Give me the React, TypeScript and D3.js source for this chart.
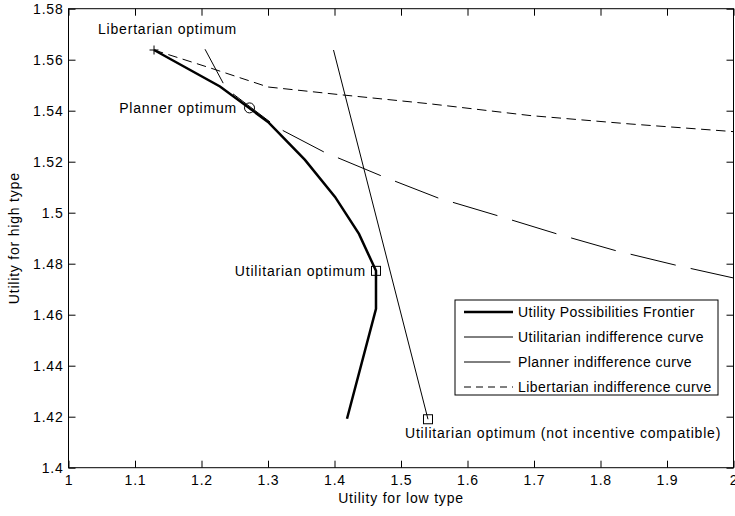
import React from "react";
import * as d3 from "d3";

// axis ticks
const xTicks = [1, 1.1, 1.2, 1.3, 1.4, 1.5, 1.6, 1.7, 1.8, 1.9, 2];
const yTicks = [1.4, 1.42, 1.44, 1.46, 1.48, 1.5, 1.52, 1.54, 1.56, 1.58];

// utility possibilities frontier (low type, high type)
const frontierX = [1.1286, 1.2278, 1.3, 1.3556, 1.4008, 1.4368, 1.4624, 1.4624, 1.4188];
const frontierY = [1.5638, 1.5495, 1.5356, 1.5207, 1.5062, 1.4917, 1.4772, 1.4623, 1.4192];

// utilitarian indifference curve
const utilX = [1.3985, 1.5406];
const utilY = [1.5638, 1.419];

// short indifference segment near libertarian optimum
const shortX = [1.2053, 1.2326];
const shortY = [1.5641, 1.5508];

// planner indifference curve
const plannerX = [1.2474, 1.303, 1.3226, 1.3842, 1.4699, 1.5556, 1.6444, 1.7331, 1.8218, 1.912, 2.0];
const plannerY = [1.5466, 1.5356, 1.5322, 1.5238, 1.5145, 1.5058, 1.4989, 1.4918, 1.4852, 1.4795, 1.4744];

// libertarian indifference curve
const libX = [1.1286, 1.2128, 1.3, 1.4038, 1.5436, 1.694, 1.8444, 2.0];
const libY = [1.5638, 1.5568, 1.5493, 1.5464, 1.5427, 1.5381, 1.5348, 1.5318];

// optima
const optimumNames = ["Libertarian optimum", "Planner optimum", "Utilitarian optimum", "Utilitarian optimum (not incentive compatible)"];
const optimumX = [1.1286, 1.2722, 1.4624, 1.5406];
const optimumY = [1.5638, 1.5411, 1.4772, 1.419];
const optimumShape = ["plus", "circle", "square", "square"];

const legendNames = ["Utility Possibilities Frontier", "Utilitarian indifference curve", "Planner indifference curve", "Libertarian indifference curve"];

const FONT = "'Liberation Sans', Arial, Helvetica, sans-serif";
const LS = 0.8; // glyphs in the original are a bit wider than Arial

function drawChart(svgRef: React.RefObject<SVGSVGElement | null>) {
  const w = 735;
  const h = 516;
  const svg = d3.select(svgRef.current);
  svg.selectAll("*").remove();
  svg.attr("width", w).attr("height", h);

  const margin = { top: 8.7, bottom: 48.3, left: 68.5, right: 1.5 };
  const x = d3.scaleLinear().domain([1, 2]).range([margin.left, w - margin.right]);
  const y = d3.scaleLinear().domain([1.4, 1.58]).range([h - margin.bottom, margin.top]);

  svg.append("rect").attr("width", w).attr("height", h).attr("fill", "white");

  const fmt = (v: number) => String(+v.toFixed(2));

  // axes, ticks inward on all four sides
  const bottom = svg.append("g").attr("transform", `translate(0,${y(1.4)})`)
    .call(d3.axisBottom(x).tickValues(xTicks).tickFormat(fmt as any).tickSizeInner(-7).tickSizeOuter(0).tickPadding(7.5));
  const left = svg.append("g").attr("transform", `translate(${x(1)},0)`)
    .call(d3.axisLeft(y).tickValues(yTicks).tickFormat(fmt as any).tickSizeInner(-7).tickSizeOuter(0).tickPadding(5));
  const top = svg.append("g").attr("transform", `translate(0,${y(1.58)})`)
    .call(d3.axisTop(x).tickValues(xTicks).tickFormat(() => "").tickSizeInner(-7).tickSizeOuter(0));
  const right = svg.append("g").attr("transform", `translate(${x(2)},0)`)
    .call(d3.axisRight(y).tickValues(yTicks).tickFormat(() => "").tickSizeInner(-7).tickSizeOuter(0));
  [bottom, left, top, right].forEach(g => {
    g.select(".domain").remove();
    g.selectAll("line").attr("stroke", "black");
    g.selectAll("text").attr("font-family", FONT).attr("font-size", 14)
      .attr("letter-spacing", LS).attr("fill", "black");
  });

  svg.append("rect")
    .attr("x", x(1)).attr("y", y(1.58))
    .attr("width", x(2) - x(1)).attr("height", y(1.4) - y(1.58))
    .attr("fill", "none").attr("stroke", "black").attr("stroke-width", 1);

  // axis titles
  svg.append("text")
    .attr("x", (x(1) + x(2)) / 2).attr("y", 503)
    .attr("text-anchor", "middle").attr("font-family", FONT).attr("font-size", 14)
    .attr("letter-spacing", LS)
    .text("Utility for low type");
  svg.append("text")
    .attr("transform", `translate(19,${(y(1.4) + y(1.58)) / 2}) rotate(-90)`)
    .attr("text-anchor", "middle").attr("font-family", FONT).attr("font-size", 14)
    .attr("letter-spacing", LS)
    .text("Utility for high type");

  const line = d3.line<[number, number]>().x(d => x(d[0])).y(d => y(d[1]));
  const zip = (xs: number[], ys: number[]) => xs.map((v, i) => [v, ys[i]] as [number, number]);

  const plot = svg.append("g");
  const addPath = (pts: [number, number][], width: number, dash: string | null) =>
    plot.append("path").datum(pts)
      .attr("fill", "none").attr("stroke", "black")
      .attr("stroke-width", width)
      .attr("stroke-dasharray", dash)
      .attr("d", line);

  addPath(zip(libX, libY), 1, "9.5,5.5");
  addPath(zip(plannerX, plannerY), 1, "46.4,15.3");
  addPath(zip(utilX, utilY), 1, null);
  addPath(zip(shortX, shortY), 1, null);
  addPath(zip(frontierX, frontierY), 2.5, null);

  // optima markers
  optimumX.forEach((ox, i) => {
    const cx = x(ox);
    const cy = y(optimumY[i]);
    const shape = optimumShape[i];
    if (shape === "plus") {
      plot.append("path").attr("d", `M${cx - 4.5},${cy}H${cx + 4.5}M${cx},${cy - 4.5}V${cy + 4.5}`)
        .attr("stroke", "black").attr("stroke-width", 1);
    } else if (shape === "circle") {
      plot.append("circle").attr("cx", cx).attr("cy", cy).attr("r", 5)
        .attr("fill", "none").attr("stroke", "black").attr("stroke-width", 1);
    } else {
      plot.append("rect").attr("x", cx - 4.5).attr("y", cy - 4.5).attr("width", 9).attr("height", 9)
        .attr("fill", "none").attr("stroke", "black").attr("stroke-width", 1);
    }
  });

  // optimum labels
  const labelOffset = [[-56, -16, "start"], [-12.5, 5, "end"], [-10, 5, "end"], [-23, 18.5, "start"]];
  optimumNames.forEach((name, i) => {
    const [dx, dy, anchor] = labelOffset[i];
    svg.append("text")
      .attr("x", x(optimumX[i]) + (dx as number))
      .attr("y", y(optimumY[i]) + (dy as number))
      .attr("text-anchor", anchor as string)
      .attr("font-family", FONT).attr("font-size", 14)
      .attr("letter-spacing", LS)
      .text(name);
  });

  // legend
  const lg = svg.append("g").attr("transform", "translate(455,300)");
  lg.append("rect").attr("width", 263).attr("height", 95)
    .attr("fill", "white").attr("stroke", "black").attr("stroke-width", 1);
  const legendStyle = [[2.5, null], [1, null], [1, "46.4,15.3"], [1, "7,5"]];
  legendNames.forEach((name, i) => {
    const ry = 12 + i * 25;
    lg.append("line").attr("x1", 9).attr("x2", 58).attr("y1", ry).attr("y2", ry)
      .attr("stroke", "black").attr("stroke-width", legendStyle[i][0] as number)
      .attr("stroke-dasharray", legendStyle[i][1] as any);
    lg.append("text").attr("x", 63).attr("y", ry + 5)
      .attr("font-family", FONT).attr("font-size", 14)
      .attr("letter-spacing", 0.45)
      .text(name);
  });
}

const App = () => {
  const svg = React.useRef<SVGSVGElement>(null);
  React.useEffect(() => {
    drawChart(svg);
  }, [svg]);
  return (
    <svg ref={svg} style={{ position: "absolute", left: 0, top: 0, overflow: "visible" }} />
  );
};

export default App;
